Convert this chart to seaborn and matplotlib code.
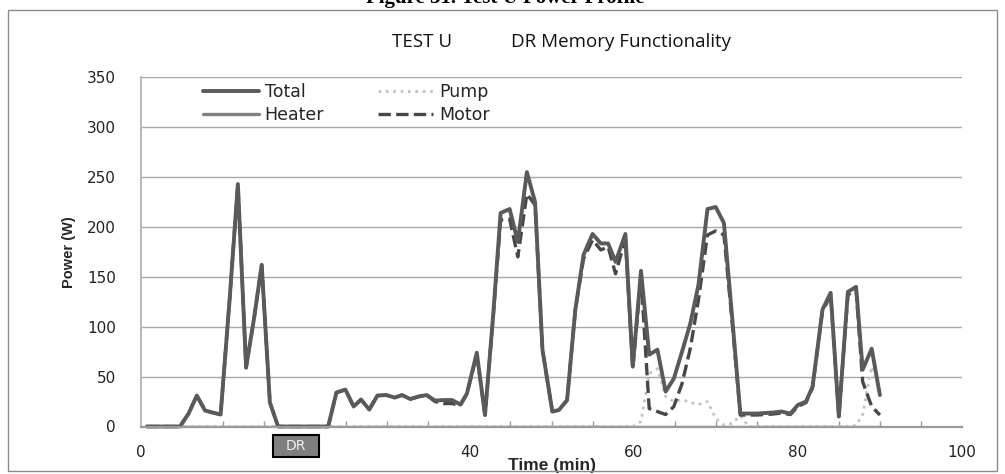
import matplotlib
matplotlib.use("Agg")
import matplotlib.pyplot as plt
from matplotlib.patches import Rectangle
from matplotlib.ticker import MultipleLocator
import seaborn as sns
import pandas as pd

# ---------------- data ----------------
time = [0.7, 1.7, 2.7, 3.7, 4.75, 5.8, 6.8, 7.8, 8.7, 9.7, 10.8, 11.8, 12.8, 13.8, 14.7, 15.7, 16.7,
        17.7, 18.7, 19.7, 20.7, 21.7, 22.8, 23.8, 24.9, 25.9, 26.8, 27.8, 28.8, 29.9, 30.9, 31.8,
        32.8, 33.8, 34.8, 35.8, 36.9, 37.9, 38.9, 39.7, 40.9, 41.9, 42.9, 43.8, 44.9, 45.9, 47.0,
        48.0, 48.9, 50.1, 50.9, 51.9, 52.9, 53.9, 55.0, 56.0, 56.9, 57.8, 59.0, 59.9, 60.9, 61.9,
        62.9, 63.9, 64.9, 65.9, 66.9, 67.9, 69.0, 70.0, 71.0, 72.0, 73.0, 74.0, 75.0, 76.0, 77.0,
        78.0, 79.1, 80.0, 81.0, 81.8, 83.0, 84.0, 85.0, 86.1, 87.1, 87.9, 89.0, 90.0]

total = [0, 0, 0, 0, 0, 13, 31, 16, 14, 12, 128, 243, 59, 110, 162, 24, 0,
         0, 0, 0, 0, 0, 0, 34, 37, 20, 27, 17, 31, 31.5, 29, 31.5,
         27.5, 30, 31.5, 26, 26.5, 26.5, 22, 33, 74, 11.5, 112, 214, 218, 185, 255,
         225, 77, 15, 16.5, 26.5, 117, 172, 193, 183.5, 183.5, 165, 193, 60, 156, 72,
         77, 35, 48, 75, 103, 142, 218, 220, 204, 110, 13, 13, 13, 13.5, 14,
         15, 13, 21.5, 25, 40, 117, 134, 10, 135, 140, 57, 78, 31.5]

motor = [0, 0, 0, 0, 0, 13, 31, 16, 14, 12, 128, 243, 59, 110, 162, 24, 0,
         0, 0, 0, 0, 0, 0, 34, 37, 20, 27, 17, 31, 31.5, 29, 31.5,
         27.5, 30, 31.5, 25, 23, 23, 21, 33, 72, 11.5, 110, 207, 208, 170, 233,
         222, 77, 15, 16.5, 26.5, 117, 168, 187, 177, 180, 153, 188, 58, 150, 18,
         15, 12, 20, 43, 78, 127, 192, 196, 192, 105, 11.5, 11.5, 11.5, 12, 12.5,
         13.5, 12, 20, 24, 39, 115, 132, 10, 132, 137, 45, 20, 11.5]

pump = [0, 0, 0, 0, 0, 0, 0, 0, 0, 0, 0, 0, 0, 0, 0, 0, 0,
        0, 0, 0, 0, 0, 0, 0, 0, 0, 0, 0, 0, 0, 0, 0,
        0, 0, 0, 0, 0, 0, 0, 0, 0, 0, 0, 0, 0, 0, 0,
        0, 0, 0, 0, 0, 0, 0, 0, 0, 0, 0, 0, 0, 5, 53,
        58, 30, 25, 27, 24, 22, 25, 8, 1.5, 3, 11, 0, 0, 0, 0,
        0, 0, 0, 0, 0, 0, 0, 0, 0, 1, 12, 60, 36]

heater = [0] * len(time)

x_ticks = [0, 20, 40, 60, 80, 100]
y_ticks = [0, 50, 100, 150, 200, 250, 300, 350]

# ---------------- figure ----------------
sns.set_theme(style="white")
plt.rcParams["font.family"] = ["DejaVu Sans"]

fig = plt.figure(figsize=(10.05, 4.74), dpi=100)
W, H = 1005, 474
ax = fig.add_axes([141 / W, 1 - 426.5 / H, (962 - 141) / W, (426.5 - 77.3) / H])

def frame(vals, name):
    return pd.DataFrame({"Time": time, "Power": vals, "Series": name})

series = [
    ("Heater", heater, "#808080", "-", 2.4, True),
    ("Pump", pump, "#c2c2c2", ":", 2.0, True),
    ("Motor", motor, "#474747", "--", 2.4, False),
    ("Total", total, "#5a5a5a", "-", 2.8, False),
]
for name, vals, col, ls, lw, clip in series:
    sns.lineplot(data=frame(vals, name), x="Time", y="Power", ax=ax, color=col,
                 linestyle=ls, linewidth=lw, label=name, sort=False,
                 estimator=None, errorbar=None, clip_on=clip, zorder=2)

ax.set_xlim(0, 100)
ax.set_ylim(0, 350)
ax.set_xticks(x_ticks)
ax.set_yticks(y_ticks)
ax.xaxis.set_minor_locator(MultipleLocator(5))
ax.yaxis.grid(True, color="#a8a8a8", linewidth=1.0)
ax.xaxis.grid(False)
ax.set_axisbelow(True)

for s in ["top", "right"]:
    ax.spines[s].set_visible(False)
ax.spines["left"].set_color("#b0b0b0")
ax.spines["bottom"].set_color("#9a9a9a")
ax.spines["bottom"].set_linewidth(1.6)
ax.spines["bottom"].set_zorder(3)

ax.tick_params(axis="x", which="major", direction="inout", length=8, width=1,
               color="#9a9a9a", labelsize=11, labelcolor="#222222", pad=9)
ax.tick_params(axis="x", which="minor", direction="in", length=4, width=1,
               color="#9a9a9a", bottom=True)
ax.tick_params(axis="y", which="major", length=0, labelsize=11,
               labelcolor="#222222", pad=18)

ax.set_xlabel("Time (min)", fontsize=12.5, fontweight="bold",
              family=["Liberation Sans", "DejaVu Sans"], labelpad=-1)
ax.set_ylabel("Power (W)", fontsize=10.5, fontweight="bold",
              family=["Liberation Sans", "DejaVu Sans"], labelpad=8)

# legend: Total / Heater in first column, Pump / Motor in second
h, l = ax.get_legend_handles_labels()
order = ["Total", "Heater", "Pump", "Motor"]
hd = dict(zip(l, h))
ax.legend([hd[k] for k in order], order, loc="upper left",
          bbox_to_anchor=(0.067, 1.003), ncol=2, frameon=False, fontsize=12.5,
          handlelength=3.2, handletextpad=0.35, columnspacing=3.1,
          labelspacing=0.3, borderaxespad=0.0)

# subtitle
fig.text(392 / W, 1 - 42 / H, "TEST U", fontsize=13.5, va="center", ha="left",
         family=["Open Sans", "DejaVu Sans"], color="#111111")
fig.text(511 / W, 1 - 42 / H, "DR Memory Functionality", fontsize=13.5, va="center",
         ha="left", family=["Open Sans", "DejaVu Sans"], color="#111111")

# cropped caption at the very top
fig.text(0.503, 1 - 3 / H, "Figure 31. Test U Power Profile", fontsize=15,
         fontweight="bold", ha="center", va="baseline",
         family=["Liberation Serif", "DejaVu Serif"], color="black")

# DR marker box
fig.patches.append(Rectangle((273 / W, 1 - 456.5 / H), 46 / W, 22 / H,
                             transform=fig.transFigure, facecolor="#7f7f7f",
                             edgecolor="black", linewidth=1.5, zorder=5))
fig.text(296 / W, 1 - 445.5 / H, "DR", fontsize=10, ha="center", va="center",
         color="#eeeeee", zorder=6)

# outer chart border
fig.patches.append(Rectangle((8 / W, 1 - 471 / H), 989 / W, 461 / H,
                             transform=fig.transFigure, fill=False,
                             edgecolor="#8a8a8a", linewidth=1.0, zorder=0))

fig.savefig("out.png", dpi=100)
